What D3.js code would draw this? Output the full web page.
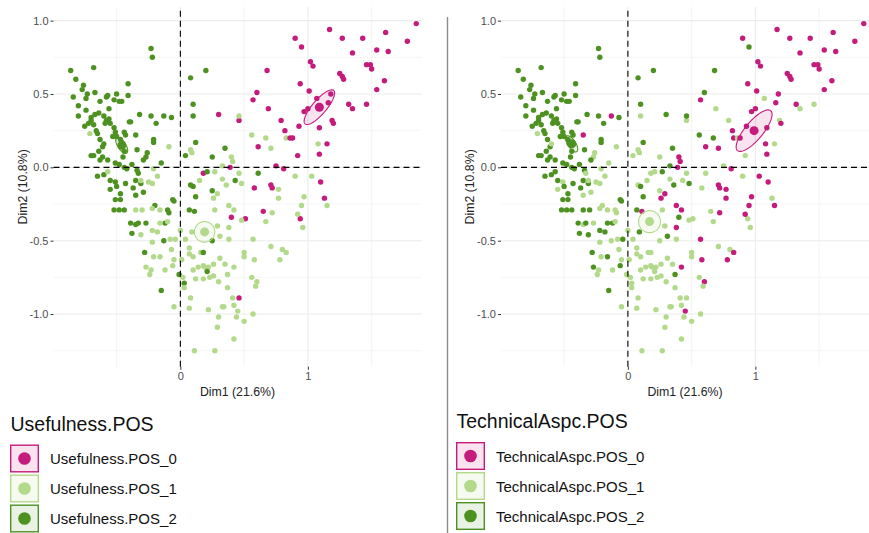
<!DOCTYPE html>
<html><head><meta charset="utf-8">
<script src="https://cdn.jsdelivr.net/npm/d3@7"></script>
<style>
body{margin:0;background:#fff}
svg{display:block}
text{font-family:"Liberation Sans",Arial,Helvetica,sans-serif}
</style>
</head><body>
<svg id="c" width="869" height="533"></svg>
<script>
// ---------- DATA ----------
// individual coordinates (Dim1, Dim2), same for both panels
const indX = [
1.85,1.17,0.90,0.95,1.27,1.43,1.61,1.78,1.35,1.54,
1.63,1.02,1.04,1.46,1.49,1.50,1.25,1.27,1.28,1.60,
1.54,0.68,0.94,1.01,0.60,0.57,0.69,0.30,0.46,0.46,
0.79,0.82,0.93,0.83,0.86,0.88,0.61,0.92,1.09,1.15,
1.09,1.19,1.20,1.32,1.35,1.46,1.07,1.18,1.16,1.00,
0.97,0.75,0.81,0.39,0.18,0.71,0.72,0.58,1.10,1.13,
0.56,0.67,0.71,1.08,0.40,0.41,0.33,0.27,0.46,0.48,
0.33,0.36,0.29,0.26,0.90,1.03,0.77,0.97,0.77,0.20,
0.25,0.35,0.21,0.43,0.61,0.25,-0.23,-0.22,-0.86,-0.68,
-0.82,-0.76,-0.77,-0.84,-0.73,-0.74,-0.67,-0.80,-0.80,-0.74,
-0.75,-0.63,-0.58,-0.57,-0.52,-0.50,-0.48,-0.46,-0.41,-0.41,
-0.56,-0.64,-0.67,-0.70,-0.70,-0.60,-0.58,-0.59,-0.56,-0.55,
-0.72,-0.68,-0.66,-0.52,-0.51,-0.53,-0.50,-0.47,-0.46,-0.44,
-0.43,-0.40,-0.39,-0.32,-0.23,-0.19,-0.13,-0.07,-0.35,-0.21,
-0.21,-0.63,-0.61,-0.60,-0.65,-0.70,-0.68,-0.63,-0.61,-0.57,
-0.64,-0.51,-0.48,-0.45,-0.44,-0.34,-0.26,-0.27,-0.29,-0.15,
-0.65,-0.60,-0.55,-0.51,-0.50,-0.55,-0.47,-0.43,-0.44,-0.42,
-0.38,-0.34,-0.33,-0.35,-0.31,-0.29,-0.37,-0.35,-0.06,0.08,
0.10,0.10,0.12,0.04,0.08,0.10,0.12,-0.71,-0.09,0.08,
0.09,-0.57,-0.21,-0.18,-0.31,-0.25,-0.22,0.15,-0.51,-0.47,
-0.52,-0.48,-0.44,-0.20,-0.10,-0.09,-0.05,-0.39,-0.35,-0.33,
-0.27,-0.38,-0.12,-0.13,-0.28,-0.01,0.03,-0.15,0.07,0.11,
-0.30,-0.35,-0.22,-0.16,-0.22,-0.18,-0.16,-0.10,-0.31,-0.08,
-0.04,0.00,-0.22,0.04,0.09,-0.07,-0.21,-0.16,-0.05,0.01,
0.07,0.07,0.10,0.16,0.14,0.18,-0.27,-0.23,-0.24,-0.12,
-0.06,0.02,0.03,0.10,0.12,0.23,0.19,0.08,-0.05,0.07,
0.11,0.65,0.40,0.51,0.94,0.46,0.95,1.15,0.92,0.96,
0.72,0.67,0.48,0.42,0.38,0.27,0.29,0.38,0.31,0.38,
0.57,0.71,0.80,0.83,0.78,0.50,0.50,0.58,0.31,0.35,
0.26,0.22,0.42,0.18,0.26,0.37,0.30,0.37,0.56,0.60,
0.59,0.41,0.33,0.34,0.42,0.22,0.45,0.57,0.30,0.44,
0.50,0.29,0.42,0.27,0.25,0.18,0.21
];
const indY = [
0.98,0.94,0.88,0.82,0.88,0.88,0.92,0.86,0.78,0.80,
0.79,0.72,0.69,0.70,0.70,0.67,0.64,0.62,0.60,0.59,
0.53,0.66,0.57,0.52,0.51,0.46,0.40,0.36,0.32,0.35,
0.32,0.25,0.28,0.20,0.20,0.20,0.14,0.08,0.09,0.16,
0.27,0.32,0.30,0.43,0.40,0.43,0.47,0.50,0.44,0.40,
0.38,0.01,-0.01,0.00,-0.04,-0.12,-0.14,-0.14,-0.10,-0.21,
0.22,0.20,0.13,0.16,0.07,0.04,0.01,-0.03,-0.04,-0.11,
-0.08,-0.12,-0.18,-0.21,-0.06,-0.06,-0.15,-0.20,-0.21,0.66,
0.07,0.13,-0.03,-0.09,-0.04,-0.16,0.81,0.75,0.66,0.68,
0.60,0.56,0.53,0.48,0.50,0.47,0.51,0.42,0.35,0.39,
0.28,0.45,0.48,0.49,0.46,0.50,0.45,0.45,0.49,0.57,
0.40,0.37,0.36,0.34,0.32,0.35,0.32,0.30,0.33,0.30,
0.30,0.29,0.25,0.27,0.24,0.21,0.21,0.19,0.16,0.24,
0.22,0.31,0.31,0.36,0.35,0.30,0.35,0.34,0.22,0.19,
0.17,0.19,0.14,0.16,0.23,0.08,0.08,0.05,0.07,0.05,
0.11,0.03,0.02,0.07,0.11,0.12,0.10,0.07,0.05,0.03,
-0.06,-0.05,-0.09,-0.10,-0.13,-0.15,-0.18,-0.11,0.00,-0.01,
0.02,-0.02,-0.04,-0.09,-0.11,-0.17,-0.14,-0.19,-0.22,0.61,
0.43,0.35,0.17,0.08,-0.12,-0.13,-0.20,0.23,0.14,0.12,
0.10,-0.03,-0.01,-0.06,-0.09,-0.10,-0.11,-0.09,-0.22,-0.22,
-0.29,-0.29,-0.29,-0.26,-0.29,-0.31,-0.23,-0.38,-0.39,-0.38,
-0.38,-0.45,-0.38,-0.50,-0.58,-0.73,-0.79,-0.84,-0.29,-0.30,
-0.29,-0.29,-0.28,-0.29,-0.43,-0.44,-0.38,-0.37,-0.46,-0.49,
-0.49,-0.43,-0.51,-0.49,-0.44,-0.56,-0.61,-0.61,-0.63,-0.63,
-0.55,-0.59,-0.61,-0.58,-0.68,-0.67,-0.68,-0.70,-0.73,-0.70,
-0.67,-0.75,-0.82,-0.70,-0.76,-0.75,-0.68,-0.89,-0.95,-0.96,
-1.25,-0.30,-0.34,-0.35,-0.35,-0.89,-0.26,-0.26,-0.32,-0.41,
-0.31,-0.37,-0.36,-0.29,-0.26,-0.29,-0.40,-0.41,-0.47,-0.49,
-0.49,-0.54,-0.56,-0.58,-0.63,-0.58,-0.61,-0.63,-0.62,-0.66,
-0.66,-0.68,-0.68,-0.76,-0.74,-0.73,-0.78,-0.82,-0.75,-0.78,
-0.81,-0.89,-0.95,-0.95,-0.94,-0.97,-0.98,-1.00,-1.02,-1.02,
-1.05,-1.09,-1.17,-1.25,-0.50,-0.58,-0.71
];
// group of each individual (0 = POS_0, 1 = POS_1, 2 = POS_2)
const usefulnessGroup = [
0,0,0,0,0,0,0,0,0,0, 0,0,0,0,0,0,0,0,0,0, 0,0,0,0,0,0,0,0,0,1,
0,0,0,1,0,0,0,0,0,0, 0,0,0,0,0,0,0,0,0,0, 0,0,0,0,0,0,0,0,0,0,
1,1,1,1,1,1,1,1,1,1, 1,1,1,1,1,1,1,1,1,2, 2,2,2,2,2,2,2,2,2,2,
2,2,2,2,2,2,2,2,2,2, 2,2,2,2,2,2,2,2,2,2, 2,2,2,2,2,2,2,2,2,2,
2,2,2,2,2,2,2,2,2,2, 2,2,2,2,2,2,2,2,2,2, 2,2,2,2,2,2,2,2,2,2,
2,2,2,2,2,2,2,2,2,2, 2,2,2,2,2,2,2,2,2,2, 2,2,2,2,2,2,2,2,2,2,
2,2,2,2,2,2,2,1,1,1, 1,1,1,1,1,1,1,1,2,2, 2,2,2,2,2,2,2,2,2,2,
2,2,2,2,2,2,2,2,2,2, 1,1,1,1,1,1,1,1,1,1, 1,1,1,1,1,1,1,1,1,1,
1,1,1,1,1,1,1,1,1,1, 1,1,1,1,1,1,1,1,1,1, 1,0,0,0,0,0,1,1,1,1,
1,1,1,1,1,1,1,1,1,1, 1,1,1,1,1,1,1,1,1,1, 1,1,1,1,1,1,1,1,1,1,
1,1,1,1,1,1,1,1,1,1, 1,1,1,1,2,2,2
];
const technicalGroup = [
0,0,0,2,0,0,0,0,0,0, 0,0,0,0,0,0,0,0,0,0, 0,2,0,0,2,0,1,2,1,2,
1,0,0,0,1,0,0,1,0,1, 0,1,0,0,1,1,1,0,0,0, 0,1,0,0,1,0,0,1,0,1,
2,2,0,0,0,0,2,2,1,2, 1,2,0,0,1,0,0,0,0,2, 1,2,1,1,1,1,2,2,2,2,
2,2,2,2,2,2,2,2,2,2, 2,2,2,2,2,2,2,2,2,2, 2,2,2,2,2,2,2,2,2,2,
2,2,2,2,2,2,2,2,2,2, 2,2,2,2,2,2,0,2,0,2, 2,2,2,1,2,2,2,2,2,2,
2,2,2,2,2,2,1,1,2,1, 2,2,2,1,2,1,2,2,2,2, 2,2,1,2,2,1,2,1,2,2,
2,1,2,1,1,2,2,1,1,1, 1,2,1,1,1,1,1,1,2,2, 2,2,2,1,1,1,2,2,1,2,
1,2,2,1,2,1,1,2,2,0, 2,2,1,1,2,2,2,1,2,1, 2,1,1,1,2,1,1,2,1,1,
1,1,1,1,1,1,2,1,1,1, 2,1,1,1,1,1,1,1,1,1, 1,1,2,1,1,1,0,0,0,1,
0,1,1,0,0,1,1,0,2,1, 0,1,1,0,0,1,1,0,1,1, 1,1,0,1,1,2,1,1,1,0,
1,1,1,1,1,1,0,1,1,1, 1,1,1,1,1,1,1
];
// group means and confidence ellipse axes (Dim1, Dim2 units)
const useMeanX = [1.09, 0.19, -0.46];
const useMeanY = [0.41, -0.44, 0.15];
const useAxisA = [[0.112, 0.114], [0.080, 0.0], [0.039, -0.053]];
const useAxisB = [[0.042, -0.031], [0.0, 0.070], [0.026, 0.015]];
const techMeanX = [0.99, 0.17, -0.44];
const techMeanY = [0.25, -0.37, 0.16];
const techAxisA = [[0.130, 0.136], [0.086, 0.0], [0.039, -0.053]];
const techAxisB = [[0.054, -0.039], [0.0, 0.075], [0.026, 0.015]];

const groupCodes = ["0", "1", "2"];
const groupColors = ["#C51B7D", "#B3D98A", "#4D9221"];
const xMajor = [0, 1];
const xMinor = [-0.5, 0.5, 1.5];
const yMajor = [-1.0, -0.5, 0.0, 0.5, 1.0];
const yMinor = [-1.25, -0.75, -0.25, 0.25, 0.75];
const xTitle = "Dim1 (21.6%)";
const yTitle = "Dim2 (10.8%)";

// ---------- DRAW ----------
const svg = d3.select("#c");
svg.append("rect").attr("width", 869).attr("height", 533).attr("fill", "#fff");

const panels = [
  {title: "Usefulness.POS", groups: usefulnessGroup, mx: useMeanX, my: useMeanY, ea: useAxisA, eb: useAxisB, dx: 0, legX: 10, legY: 444.5},
  {title: "TechnicalAspc.POS", groups: technicalGroup, mx: techMeanX, my: techMeanY, ea: techAxisA, eb: techAxisB, dx: 447.5, legX: 456, legY: 442}
];

const x = d3.scaleLinear().domain([-0.995, 1.891]).range([53.5, 421.5]);
const y = d3.scaleLinear().domain([-1.359, 1.093]).range([366.7, 7]);
const [x0, x1] = x.range();
const [y0, y1] = y.range();

panels.forEach(p => {
  const g = svg.append("g").attr("transform", `translate(${p.dx},0)`);

  // grid
  const grid = g.append("g");
  grid.selectAll(".ymin").data(yMinor).enter().append("line")
    .attr("x1", x0).attr("x2", x1).attr("y1", d => y(d)).attr("y2", d => y(d))
    .attr("stroke", "#f2f2f2").attr("stroke-width", 0.7);
  grid.selectAll(".xmin").data(xMinor).enter().append("line")
    .attr("y1", y0).attr("y2", y1).attr("x1", d => x(d)).attr("x2", d => x(d))
    .attr("stroke", "#f0f0f0").attr("stroke-width", 0.8);
  grid.selectAll(".ymaj").data(yMajor).enter().append("line")
    .attr("x1", x0).attr("x2", x1).attr("y1", d => y(d)).attr("y2", d => y(d))
    .attr("stroke", "#ebebeb").attr("stroke-width", 1.1);
  grid.selectAll(".xmaj").data(xMajor).enter().append("line")
    .attr("y1", y0).attr("y2", y1).attr("x1", d => x(d)).attr("x2", d => x(d))
    .attr("stroke", "#ebebeb").attr("stroke-width", 1.1);

  // points
  g.append("g").selectAll("circle").data(indX.map((v, i) => i)).enter().append("circle")
    .attr("cx", i => x(indX[i])).attr("cy", i => y(indY[i])).attr("r", 2.7)
    .attr("fill", i => groupColors[p.groups[i]]);

  // ellipses
  const ts = d3.range(0, 2 * Math.PI + 0.001, Math.PI / 60);
  const line = d3.line().x(d => x(d[0])).y(d => y(d[1]));
  groupCodes.forEach((c, k) => {
    const pts = ts.map(t => [p.mx[k] + Math.cos(t) * p.ea[k][0] + Math.sin(t) * p.eb[k][0],
                             p.my[k] + Math.cos(t) * p.ea[k][1] + Math.sin(t) * p.eb[k][1]]);
    g.append("path").attr("d", line(pts) + "Z")
      .attr("fill", groupColors[k]).attr("fill-opacity", 0.12)
      .attr("stroke", groupColors[k]).attr("stroke-width", 1.1);
  });
  // means
  groupCodes.forEach((c, k) => {
    g.append("circle").attr("cx", x(p.mx[k])).attr("cy", y(p.my[k])).attr("r", 4.5)
      .attr("fill", groupColors[k]);
  });

  // dashed reference lines
  g.append("line").attr("x1", x0).attr("x2", x1).attr("y1", y(0)).attr("y2", y(0))
    .attr("stroke", "#000").attr("stroke-width", 1.1).attr("stroke-dasharray", "6,4");
  g.append("line").attr("x1", x(0)).attr("x2", x(0)).attr("y1", y0).attr("y2", y1)
    .attr("stroke", "#000").attr("stroke-width", 1.1).attr("stroke-dasharray", "6,4");

  // axes
  const ay = g.append("g").attr("transform", `translate(${x0},0)`)
    .call(d3.axisLeft(y).tickValues(yMajor).tickFormat(d => d.toFixed(1)).tickSize(3).tickPadding(2));
  const ax = g.append("g").attr("transform", `translate(0,${y0})`)
    .call(d3.axisBottom(x).tickValues(xMajor).tickFormat(d3.format("d")).tickSize(3).tickPadding(3));
  [ax, ay].forEach(a => {
    a.select(".domain").remove();
    a.selectAll(".tick line").attr("stroke", "#333").attr("stroke-width", 1);
    a.selectAll(".tick text").attr("fill", "#4d4d4d").attr("font-size", 11)
      .attr("font-family", '"Liberation Sans",Arial,sans-serif');
  });

  // axis titles
  g.append("text").attr("x", (x0 + x1) / 2).attr("y", 395.5).attr("text-anchor", "middle")
    .attr("font-size", 12.3).attr("fill", "#222").text(xTitle);
  g.append("text").attr("transform", `translate(26.5,${(y0 + y1) / 2}) rotate(-90)`)
    .attr("text-anchor", "middle").attr("font-size", 12.3).attr("fill", "#222").text(yTitle);

  // legend
  const lg = svg.append("g").attr("transform", `translate(${p.legX},${p.legY})`);
  lg.append("text").attr("x", 0.5).attr("y", -13.7).attr("font-size", 19.5).attr("fill", "#111").text(p.title);
  groupCodes.forEach((c, k) => {
    const ky = k * 30;
    lg.append("rect").attr("x", 0.7).attr("y", ky + 0.7).attr("width", 27.6).attr("height", 26.6)
      .attr("fill", groupColors[k]).attr("fill-opacity", 0.12)
      .attr("stroke", groupColors[k]).attr("stroke-width", 1.4);
    lg.append("circle").attr("cx", 14.5).attr("cy", ky + 14).attr("r", 6.3).attr("fill", groupColors[k]);
    lg.append("text").attr("x", 40).attr("y", ky + 19.5).attr("font-size", 15).attr("fill", "#111")
      .text(p.title + "_" + c);
  });
});

// divider between the two plots
svg.append("line").attr("x1", 447.5).attr("x2", 447.5).attr("y1", 17).attr("y2", 533)
  .attr("stroke", "#8a8a8a").attr("stroke-width", 1.4);
</script>
</body></html>
